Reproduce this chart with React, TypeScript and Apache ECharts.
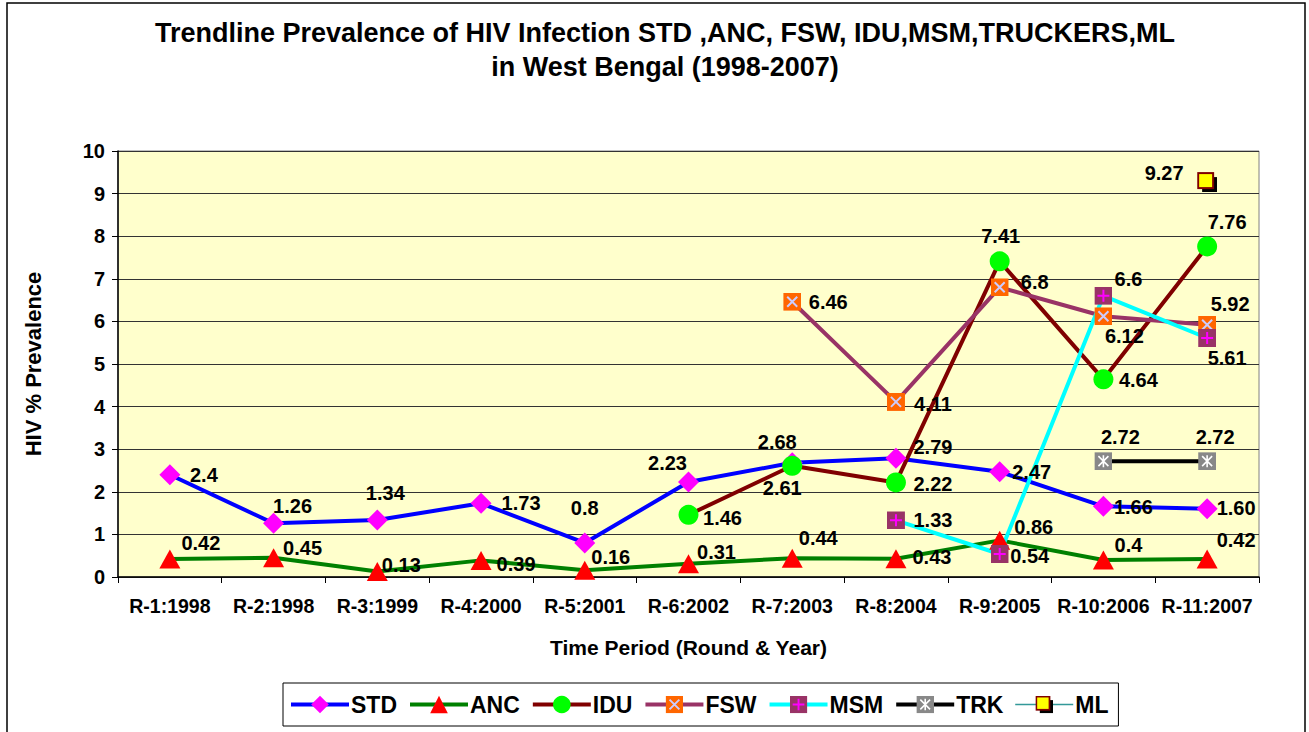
import React, { useEffect, useRef } from "react";
import * as echarts from "echarts";

const categories = [
  "R-1:1998", "R-2:1998", "R-3:1999", "R-4:2000", "R-5:2001", "R-6:2002",
  "R-7:2003", "R-8:2004", "R-9:2005", "R-10:2006", "R-11:2007",
];
const yTicks = [0, 1, 2, 3, 4, 5, 6, 7, 8, 9, 10];

const stdValues = [2.4, 1.26, 1.34, 1.73, 0.8, 2.23, 2.68, 2.79, 2.47, 1.66, 1.6];
const ancValues = [0.42, 0.45, 0.13, 0.39, 0.16, 0.31, 0.44, 0.43, 0.86, 0.4, 0.42];
const iduValues = [null, null, null, null, null, 1.46, 2.61, 2.22, 7.41, 4.64, 7.76];
const fswValues = [null, null, null, null, null, null, 6.46, 4.11, 6.8, 6.12, 5.92];
const msmValues = [null, null, null, null, null, null, null, 1.33, 0.54, 6.6, 5.61];
const trkValues = [null, null, null, null, null, null, null, null, null, 2.72, 2.72];
const mlValues = [null, null, null, null, null, null, null, null, null, null, 9.27];

const stdLabels = ["2.4", "1.26", "1.34", "1.73", "0.8", "2.23", "2.68", "2.79", "2.47", "1.66", "1.60"];

// label offsets [dx, dy] relative to the marker centre
const stdOffsets = [[34, 0], [19, -17], [8, -27], [40, 0], [0, -35], [-21, -19], [-15, -21], [37, -11], [32, 0], [30, 1], [29, -1]];
const ancOffsets = [[31, -16], [29, -10], [24, -6], [35, 4], [26, -13], [28, -12], [26, -20], [36, -2], [34, -13], [25, -15], [29, -19]];
const iduOffsets = [null, null, null, null, null, [34, 3], [-10, 22], [37, 2], [1, -25], [35, 1], [20, -24]];
const fswOffsets = [null, null, null, null, null, null, [36, 0], [37, 2], [35, -5], [21, 20], [23, -21]];
const msmOffsets = [null, null, null, null, null, null, null, [37, 0], [30, 2], [25, -17], [20, 20]];
const trkOffsets = [null, null, null, null, null, null, null, null, null, [17, -24], [8, -24]];
const mlOffsets = [null, null, null, null, null, null, null, null, null, null, [-43, -9]];

const FONT = "'Liberation Sans', Arial, sans-serif";

const svgSymbol = (s: string) =>
  "image://data:image/svg+xml;charset=utf-8," + encodeURIComponent(s);

const fswSymbol = svgSymbol(
  '<svg xmlns="http://www.w3.org/2000/svg" width="18" height="18" viewBox="0 0 18 18"><rect width="18" height="18" fill="#FF6600"/><path d="M4 4L14 14M14 4L4 14" stroke="#CCCCFF" stroke-width="2"/></svg>'
);
const msmSymbol = svgSymbol(
  '<svg xmlns="http://www.w3.org/2000/svg" width="18" height="18" viewBox="0 0 18 18"><rect width="18" height="18" fill="#993366"/><path d="M9 3V15M3 9H15" stroke="#FF00FF" stroke-width="2"/></svg>'
);
const trkSymbol = svgSymbol(
  '<svg xmlns="http://www.w3.org/2000/svg" width="18" height="18" viewBox="0 0 18 18"><rect width="18" height="18" fill="#888888"/><path d="M9 3V15M4 4L14 14M14 4L4 14" stroke="#FFFFFF" stroke-width="1.6"/></svg>'
);
const mlSymbol = svgSymbol(
  '<svg xmlns="http://www.w3.org/2000/svg" width="20" height="20" viewBox="0 0 20 20"><rect x="5" y="5" width="15" height="15" fill="#000000"/><rect x="1" y="1" width="15" height="15" fill="#FFFF00" stroke="#800000" stroke-width="2"/></svg>'
);

function buildData(values: (number | null)[], offsets: (number[] | null)[], texts?: string[]) {
  return values.map((v, i) =>
    v === null
      ? null
      : {
          value: v,
          label: {
            offset: offsets[i] || [0, 0],
            formatter: texts ? texts[i] : String(v),
          },
        }
  );
}

const labelStyle = {
  show: true,
  position: "inside",
  align: "center",
  verticalAlign: "middle",
  color: "#000",
  fontFamily: FONT,
  fontWeight: "bold",
  fontSize: 20,
};

export default function App() {
  const ref = useRef<HTMLDivElement>(null);
  useEffect(() => {
    if (!ref.current) return;
    const chart = echarts.init(ref.current, null, { renderer: "svg" });
    const line = (
      name: string,
      values: (number | null)[],
      offsets: (number[] | null)[],
      color: string,
      symbol: string,
      symbolSize: number | number[],
      markerColor: string,
      width = 4,
      texts?: string[]
    ) => ({
      name,
      type: "line",
      data: buildData(values, offsets, texts),
      symbol,
      symbolSize,
      showAllSymbol: true,
      lineStyle: { color, width },
      itemStyle: { color: markerColor, borderWidth: 0 },
      label: labelStyle,
      emphasis: { disabled: true },
    });

    chart.setOption({
      animation: false,
      backgroundColor: "#ffffff",
      textStyle: { fontFamily: FONT },
      title: {
        text: "Trendline Prevalence of HIV Infection STD ,ANC, FSW, IDU,MSM,TRUCKERS,ML\nin West Bengal (1998-2007)",
        left: 660,
        textAlign: "center",
        top: 11,
        textStyle: {
          fontFamily: FONT,
          fontWeight: "bold",
          fontSize: 27,
          lineHeight: 34,
          color: "#000",
        },
      },
      legend: {
        left: 283,
        top: 683,
        padding: [10, 10, 10, 6],
        itemWidth: 58,
        itemHeight: 22,
        itemGap: 11,
        borderColor: "#000",
        borderWidth: 1,
        backgroundColor: "#fff",
        lineStyle: { width: "inherit" },
        textStyle: { fontFamily: FONT, fontWeight: "bold", fontSize: 23, color: "#000", padding: [0, 0, 0, -3] },
        data: ["STD", "ANC", "IDU", "FSW", "MSM", "TRK", "ML"],
      },
      graphic: [
        {
          type: "rect",
          shape: { x: 7, y: 3, width: 1298, height: 740 },
          style: { fill: "none", stroke: "#000", lineWidth: 1.5 },
          silent: true,
          z: -1,
        },
      ],
      grid: {
        left: 118,
        right: 50,
        top: 151,
        bottom: 155,
        show: true,
        backgroundColor: "#FFFFCC",
        borderColor: "#808080",
        borderWidth: 1,
      },
      xAxis: {
        type: "category",
        data: categories,
        boundaryGap: true,
        name: "Time Period (Round & Year)",
        nameLocation: "middle",
        nameGap: 60,
        nameTextStyle: { fontFamily: FONT, fontWeight: "bold", fontSize: 21, color: "#000" },
        axisLine: { lineStyle: { color: "#000", width: 1.5 } },
        axisTick: { show: true, length: 6, lineStyle: { color: "#000" } },
        axisLabel: { interval: 0, fontFamily: FONT, fontWeight: "bold", fontSize: 19.5, color: "#000", margin: 19 },
        splitLine: { show: false },
      },
      yAxis: {
        type: "value",
        min: yTicks[0],
        max: yTicks[yTicks.length - 1],
        interval: 1,
        name: "HIV % Prevalence",
        nameLocation: "middle",
        nameGap: 74,
        nameTextStyle: { fontFamily: FONT, fontWeight: "bold", fontSize: 22, color: "#000" },
        axisLine: { show: true, lineStyle: { color: "#000", width: 1.5 } },
        axisTick: { show: true, length: 6, lineStyle: { color: "#000" } },
        axisLabel: { fontFamily: FONT, fontWeight: "bold", fontSize: 20, color: "#000", margin: 13 },
        splitLine: { show: true, lineStyle: { color: "#333", width: 1 } },
      },
      series: [
        line("STD", stdValues, stdOffsets, "#0000FF", "diamond", [21, 21], "#FF00FF", 4, stdLabels),
        line("ANC", ancValues, ancOffsets, "#008000", "triangle", [21, 19], "#FF0000"),
        line("IDU", iduValues, iduOffsets, "#800000", "circle", 20, "#00FF00"),
        line("FSW", fswValues, fswOffsets, "#993366", fswSymbol, 18, "#FF6600"),
        line("MSM", msmValues, msmOffsets, "#00FFFF", msmSymbol, 18, "#993366"),
        line("TRK", trkValues, trkOffsets, "#000000", trkSymbol, 18, "#888888"),
        line("ML", mlValues, mlOffsets, "#339999", mlSymbol, 20, "#FFFF00", 1.5),
      ],
    });
    return () => chart.dispose();
  }, []);
  return (
    <div
      ref={ref}
      style={{ position: "fixed", left: 0, top: 0, width: 1309, height: 732 }}
    />
  );
}
